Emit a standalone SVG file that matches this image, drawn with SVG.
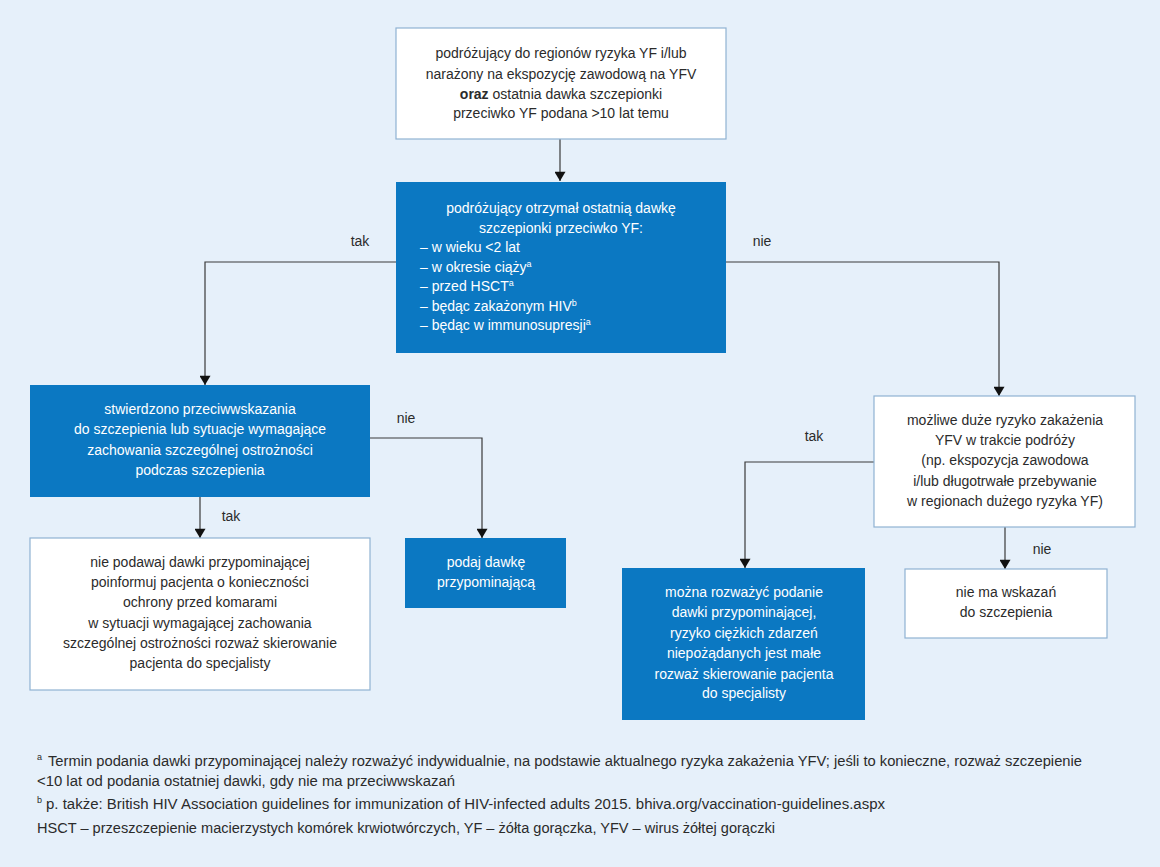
<svg xmlns="http://www.w3.org/2000/svg" width="1160" height="867" viewBox="0 0 1160 867">
<defs>
<style>
text{font-family:"Liberation Sans",Arial,sans-serif;font-size:14px;fill:#2b2b2b}
.c{text-anchor:middle}
.w{fill:#ffffff}
.lbl{font-size:14px;fill:#2b2b2b;text-anchor:middle}
.fn{font-size:14px}
.sup{font-size:9px}
.bbox{fill:#0b78c2}
.wbox{fill:#ffffff;stroke:#8fb2d2;stroke-width:1.2}
.conn{fill:none;stroke:#3a3a3a;stroke-width:1.2}
</style>
<marker id="arr" viewBox="0 0 10 12" refX="10" refY="6" markerWidth="12" markerHeight="11" markerUnits="userSpaceOnUse" orient="auto">
<path d="M0,0 L10,6 L0,12 z" fill="#111"/>
</marker>
</defs>
<rect x="0" y="0" width="1160" height="867" fill="#e6f0fa"/>

<g id="connectors">
<line class="conn" x1="560" y1="139" x2="560" y2="181" marker-end="url(#arr)"/>
<polyline class="conn" points="396,262 205,262 205,385" marker-end="url(#arr)"/>
<polyline class="conn" points="726,262 999,262 999,396" marker-end="url(#arr)"/>
<line class="conn" x1="200" y1="497" x2="200" y2="538" marker-end="url(#arr)"/>
<polyline class="conn" points="370,438 482,438 482,538" marker-end="url(#arr)"/>
<polyline class="conn" points="874,462 745,462 745,568" marker-end="url(#arr)"/>
<line class="conn" x1="1005" y1="527" x2="1005" y2="569" marker-end="url(#arr)"/>
<text class="lbl" x="360" y="246">tak</text>
<text class="lbl" x="762" y="246">nie</text>
<text class="lbl" x="406" y="423">nie</text>
<text class="lbl" x="231" y="521">tak</text>
<text class="lbl" x="814" y="441">tak</text>
<text class="lbl" x="1042" y="554">nie</text>
</g>

<g id="n-start">
<rect class="wbox" x="396" y="28" width="330" height="111"/>
<text class="c" x="561" y="58">podróżujący do regionów ryzyka YF i/lub</text>
<text class="c" x="561" y="79">narażony na ekspozycję zawodową na YFV</text>
<text class="c" x="561" y="99"><tspan font-weight="bold">oraz</tspan> ostatnia dawka szczepionki</text>
<text class="c" x="561" y="118">przeciwko YF podana &gt;10 lat temu</text>
</g>

<g id="n-decision1">
<rect class="bbox" x="396" y="182" width="330" height="171"/>
<text class="c w" x="561" y="213">podróżujący otrzymał ostatnią dawkę</text>
<text class="c w" x="561" y="232.5">szczepionki przeciwko YF:</text>
<text class="w" x="420" y="252">– w wieku &lt;2 lat</text>
<text class="w" x="420" y="271.5">– w okresie ciąży<tspan class="sup w" dy="-5">a</tspan></text>
<text class="w" x="420" y="291">– przed HSCT<tspan class="sup w" dy="-5">a</tspan></text>
<text class="w" x="420" y="310.5">– będąc zakażonym HIV<tspan class="sup w" dy="-5">b</tspan></text>
<text class="w" x="420" y="330">– będąc w immunosupresji<tspan class="sup w" dy="-5">a</tspan></text>
</g>

<g id="n-contra">
<rect class="bbox" x="30" y="385" width="340" height="112"/>
<text class="c w" x="200" y="414">stwierdzono przeciwwskazania</text>
<text class="c w" x="200" y="434">do szczepienia lub sytuacje wymagające</text>
<text class="c w" x="200" y="455">zachowania szczególnej ostrożności</text>
<text class="c w" x="200" y="475">podczas szczepienia</text>
</g>

<g id="n-nobooster">
<rect class="wbox" x="30" y="538" width="340" height="152"/>
<text class="c" x="200" y="567">nie podawaj dawki przypominającej</text>
<text class="c" x="200" y="587">poinformuj pacjenta o konieczności</text>
<text class="c" x="200" y="607">ochrony przed komarami</text>
<text class="c" x="200" y="628">w sytuacji wymagającej zachowania</text>
<text class="c" x="200" y="648">szczególnej ostrożności rozważ skierowanie</text>
<text class="c" x="200" y="668">pacjenta do specjalisty</text>
</g>

<g id="n-booster">
<rect class="bbox" x="405" y="538" width="161" height="70"/>
<text class="c w" x="486" y="567">podaj dawkę</text>
<text class="c w" x="486" y="587">przypominającą</text>
</g>

<g id="n-risk">
<rect class="wbox" x="874" y="396" width="261" height="131"/>
<text class="c" x="1005" y="425">możliwe duże ryzyko zakażenia</text>
<text class="c" x="1005" y="445">YFV w trakcie podróży</text>
<text class="c" x="1005" y="465">(np. ekspozycja zawodowa</text>
<text class="c" x="1005" y="486">i/lub długotrwałe przebywanie</text>
<text class="c" x="1005" y="506">w regionach dużego ryzyka YF)</text>
</g>

<g id="n-consider">
<rect class="bbox" x="622" y="568" width="243" height="152"/>
<text class="c w" x="744" y="597">można rozważyć podanie</text>
<text class="c w" x="744" y="617">dawki przypominającej,</text>
<text class="c w" x="744" y="638">ryzyko ciężkich zdarzeń</text>
<text class="c w" x="744" y="658">niepożądanych jest małe</text>
<text class="c w" x="744" y="679">rozważ skierowanie pacjenta</text>
<text class="c w" x="744" y="698">do specjalisty</text>
</g>

<g id="n-noindication">
<rect class="wbox" x="905" y="569" width="202" height="69"/>
<text class="c" x="1006" y="597">nie ma wskazań</text>
<text class="c" x="1006" y="617">do szczepienia</text>
</g>

<g id="footnotes">
<text class="sup" x="37" y="760">a</text>
<text class="fn" x="48" y="766" textLength="1034" lengthAdjust="spacingAndGlyphs">Termin podania dawki przypominającej należy rozważyć indywidualnie, na podstawie aktualnego ryzyka zakażenia YFV; jeśli to konieczne, rozważ szczepienie</text>
<text class="fn" x="37" y="786" textLength="418" lengthAdjust="spacingAndGlyphs">&lt;10 lat od podania ostatniej dawki, gdy nie ma przeciwwskazań</text>
<text class="sup" x="37" y="803">b</text>
<text class="fn" x="46" y="809" textLength="839" lengthAdjust="spacingAndGlyphs">p. także: British HIV Association guidelines for immunization of HIV-infected adults 2015. bhiva.org/vaccination-guidelines.aspx</text>
<text class="fn" x="37" y="833" textLength="738" lengthAdjust="spacingAndGlyphs">HSCT – przeszczepienie macierzystych komórek krwiotwórczych, YF – żółta gorączka, YFV – wirus żółtej gorączki</text>
</g>
</svg>
